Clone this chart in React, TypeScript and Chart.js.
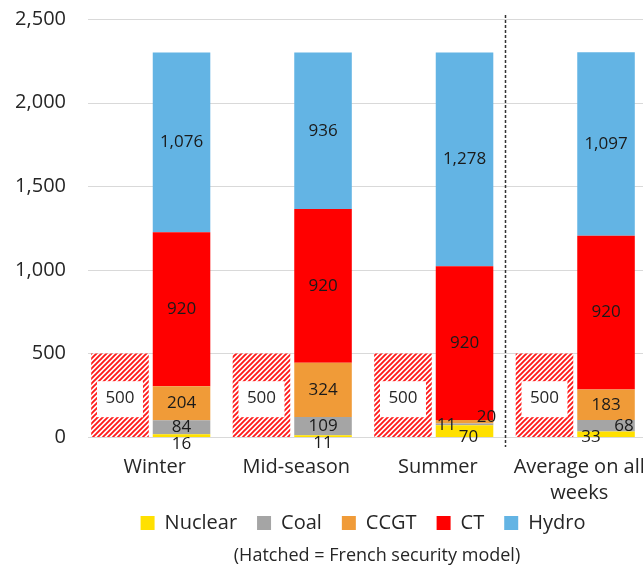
import React, { useEffect, useRef } from 'react';
import { Chart, registerables } from 'chart.js';

Chart.register(...registerables);

const categories: string[][] = [['Winter'], ['Mid-season'], ['Summer'], ['Average on all', 'weeks']];
const hatchedValues = [500, 500, 500, 500];
const nuclear = [16, 11, 70, 33];
const coal = [84, 109, 11, 68];
const ccgt = [204, 324, 20, 183];
const ct = [920, 920, 920, 920];
const hydro = [1076, 936, 1278, 1097];
const yMax = 2500;
const yStep = 500;
const hatchLabel = '(Hatched = French security model)';

// label nudges (styling only), per dataset name, per category [dx, dy]
const labelNudge: Record<string, number[][]> = {
  Nuclear: [[0, 8], [0, 7], [4, 6], [-15, 3]],
  Coal: [[0, 0], [0, 0], [-18, 1], [18, 0]],
  CCGT: [[0, 0], [0, 0], [22, -5], [0, 0]],
};

const FONT = "'Open Sans', 'Noto Sans', sans-serif";

export default function App() {
  const ref = useRef<HTMLCanvasElement>(null);
  useEffect(() => {
    const canvas = ref.current!;
    const ctx = canvas.getContext('2d')!;
    const pc = document.createElement('canvas');
    pc.width = 5;
    pc.height = 5;
    const p = pc.getContext('2d')!;
    p.fillStyle = '#ffffff';
    p.fillRect(0, 0, 5, 5);
    p.strokeStyle = '#ff1a1a';
    p.lineWidth = 1.9;
    p.beginPath();
    p.moveTo(-1, 6); p.lineTo(6, -1);
    p.moveTo(-1, 1); p.lineTo(1, -1);
    p.moveTo(4, 6); p.lineTo(6, 4);
    p.stroke();
    const pattern = ctx.createPattern(pc, 'repeat')!;

    const gridPlugin = {
      id: 'customGrid',
      beforeDatasetsDraw(chart: any) {
        const { ctx, chartArea } = chart;
        const y = chart.scales.y;
        ctx.save();
        ctx.strokeStyle = '#d9d9d9';
        ctx.lineWidth = 1;
        for (let v = 0; v <= yMax; v += yStep) {
          const py = Math.round(y.getPixelForValue(v)) + 0.5;
          ctx.beginPath();
          ctx.moveTo(chartArea.left + 8, py);
          ctx.lineTo(chartArea.right, py);
          ctx.stroke();
        }
        ctx.restore();
      },
    };

    const labelPlugin = {
      id: 'barLabels',
      afterDatasetsDraw(chart: any) {
        const { ctx, chartArea } = chart;
        const xs = chart.scales.x;
        ctx.save();
        // dashed separator
        const sx = Math.round((xs.getPixelForValue(2) + xs.getPixelForValue(3)) / 2) + 0.5;
        ctx.strokeStyle = '#333333';
        ctx.lineWidth = 1.5;
        ctx.setLineDash([3, 2]);
        ctx.beginPath();
        ctx.moveTo(sx, chartArea.top - 4);
        ctx.lineTo(sx, chartArea.bottom + 10);
        ctx.stroke();
        ctx.setLineDash([]);

        ctx.textAlign = 'center';
        ctx.textBaseline = 'middle';
        ctx.font = `17px ${FONT}`;
        chart.data.datasets.forEach((ds: any, di: number) => {
          const meta = chart.getDatasetMeta(di);
          meta.data.forEach((el: any, i: number) => {
            const v = ds.data[i] as number;
            const cx = el.x;
            const cy = (el.y + el.base) / 2;
            const txt = v.toLocaleString('en-US');
            if (ds.stack === 'h') {
              ctx.fillStyle = '#ffffff';
              ctx.fillRect(cx - 23, cy - 14, 46, 36);
              ctx.fillStyle = '#262626';
              ctx.fillText(txt, cx, cy + 3);
            } else {
              const n = labelNudge[ds.label]?.[i] ?? [0, 0];
              ctx.fillStyle = '#1a1a1a';
              ctx.fillText(txt, cx + n[0], cy + n[1]);
            }
          });
        });

        // category labels
        ctx.font = `20px ${FONT}`;
        ctx.fillStyle = '#262626';
        categories.forEach((lines, i) => {
          const x = xs.getPixelForValue(i) + 4;
          lines.forEach((line, k) => {
            ctx.fillText(line, x, chartArea.bottom + 30 + k * 26);
          });
        });
        ctx.restore();
      },
      afterDraw(chart: any) {
        const { ctx, chartArea } = chart;
        ctx.save();
        ctx.textAlign = 'center';
        ctx.textBaseline = 'middle';
        ctx.font = `18px ${FONT}`;
        ctx.fillStyle = '#262626';
        ctx.fillText(hatchLabel, (chartArea.left + chartArea.right) / 2 + 14, chart.height - 18);
        ctx.restore();
      },
    };

    const chart = new Chart(canvas, {
      type: 'bar',
      data: {
        labels: categories,
        datasets: [
          { label: 'Hatched', data: hatchedValues, backgroundColor: pattern as any, stack: 'h' },
          { label: 'Nuclear', data: nuclear, backgroundColor: '#FFE000', stack: 's' },
          { label: 'Coal', data: coal, backgroundColor: '#A5A5A5', stack: 's' },
          { label: 'CCGT', data: ccgt, backgroundColor: '#F09B38', stack: 's' },
          { label: 'CT', data: ct, backgroundColor: '#FF0000', stack: 's' },
          { label: 'Hydro', data: hydro, backgroundColor: '#63B4E4', stack: 's' },
        ],
      },
      options: {
        animation: false,
        responsive: false,
        maintainAspectRatio: false,
        datasets: { bar: { categoryPercentage: 0.87, barPercentage: 0.935 } },
        layout: { padding: { top: 19, right: 0, left: 0, bottom: 31 } },
        scales: {
          x: {
            stacked: true,
            grid: { display: false, drawTicks: false },
            border: { display: false },
            ticks: { display: false, autoSkip: false, maxRotation: 0 },
            afterFit: (s: any) => { s.height = 56; s.paddingLeft = 0; s.paddingRight = 0; },
          },
          y: {
            stacked: true,
            min: 0,
            max: yMax,
            grid: { display: false, drawTicks: false },
            border: { display: false },
            ticks: {
              stepSize: yStep,
              color: '#262626',
              font: { family: FONT, size: 20 },
              padding: 14,
              callback: (v: any) => Number(v).toLocaleString('en-US'),
            },
            afterFit: (s: any) => { s.width = 80; s.paddingTop = 0; s.paddingBottom = 0; },
          },
        },
        plugins: {
          tooltip: { enabled: false },
          title: { display: false },
          legend: {
            position: 'bottom',
            fullSize: false,
            maxHeight: 50,
            labels: {
              filter: (item: any) => item.text !== 'Hatched',
              boxWidth: 14,
              boxHeight: 14,
              color: '#262626',
              padding: 20,
              font: { family: FONT, size: 20 },
            },
          },
        },
      },
      plugins: [gridPlugin, labelPlugin],
    });
    return () => chart.destroy();
  }, []);

  return (
    <div style={{ position: 'fixed', left: 0, top: 0, width: 643, height: 574, overflow: 'hidden', background: '#fff' }}>
      <canvas ref={ref} width={646} height={574} style={{ display: 'block', width: 646, height: 574 }} />
    </div>
  );
}
